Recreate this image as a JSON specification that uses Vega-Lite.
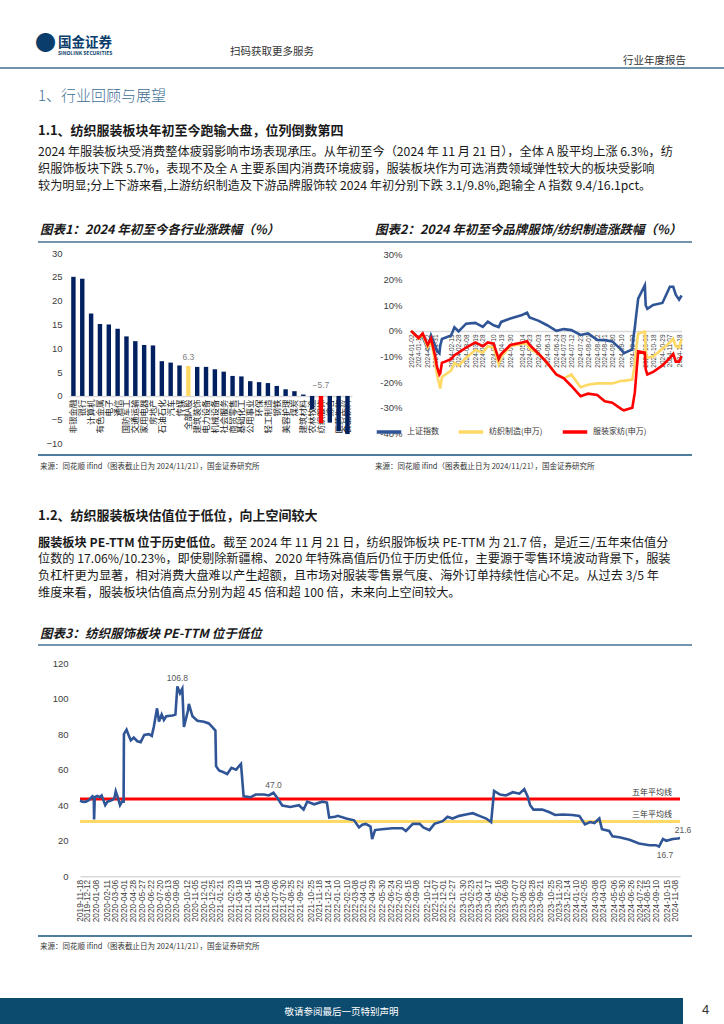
{
"$schema": "https://vega.github.io/schema/vega-lite/v6.json",
"padding": 0,
"background": "white",
"spacing": 0,
"resolve": {"scale": {"color": "independent"}, "legend": {"color": "independent"}},
"config": {
 "view": {"stroke": null},
 "font": "Noto Sans CJK SC",
 "concat": {"spacing": 0},
 "axis": {"grid": false, "ticks": false, "domain": false, "labelFont": "Liberation Sans", "labelColor": "#404040", "labelOverlap": false},
 "title": {"anchor": "start", "frame": "group", "font": "Noto Sans CJK SC", "color": "#1a1a1a", "fontWeight": "normal", "limit": 1000}
},
"datasets": {
 "ind": [
  {"name":"非银金融","chg":25.0,"g":"行业"},{"name":"银行","chg":24.6,"g":"行业"},{"name":"计算机","chg":17.3,"g":"行业"},{"name":"有色金属","chg":15.1,"g":"行业"},{"name":"电子","chg":15.0,"g":"行业"},{"name":"通信","chg":14.1,"g":"行业"},{"name":"国防军工","chg":12.5,"g":"行业"},{"name":"交通运输","chg":11.5,"g":"行业"},{"name":"家用电器","chg":10.7,"g":"行业"},{"name":"房地产","chg":10.6,"g":"行业"},{"name":"石油石化","chg":7.3,"g":"行业"},{"name":"汽车","chg":7.0,"g":"行业"},{"name":"传媒","chg":6.4,"g":"行业"},{"name":"全部A股","chg":6.3,"g":"全部A股"},{"name":"建筑装饰","chg":6.1,"g":"行业"},{"name":"电力设备","chg":6.1,"g":"行业"},{"name":"机械设备","chg":5.6,"g":"行业"},{"name":"社会服务","chg":5.1,"g":"行业"},{"name":"商贸零售","chg":4.2,"g":"行业"},{"name":"基础化工","chg":4.1,"g":"行业"},{"name":"公用事业","chg":3.1,"g":"行业"},{"name":"环保","chg":2.9,"g":"行业"},{"name":"轻工制造","chg":2.7,"g":"行业"},{"name":"钢铁","chg":2.1,"g":"行业"},{"name":"美容护理","chg":1.4,"g":"行业"},{"name":"煤炭","chg":1.0,"g":"行业"},{"name":"建筑材料","chg":0.3,"g":"行业"},{"name":"农林牧渔","chg":-2.8,"g":"行业"},{"name":"纺织服饰","chg":-5.7,"g":"纺织服饰"},{"name":"综合","chg":-5.6,"g":"行业"},{"name":"医药生物","chg":-7.4,"g":"行业"},{"name":"食品饮料","chg":-8.0,"g":"行业"}
 ],
 "idx": [
  {"date":"2024-01-02","s":"上证指数","v":0},{"date":"2024-01-11","s":"上证指数","v":-2.6},{"date":"2024-01-16","s":"上证指数","v":-2.3},{"date":"2024-01-22","s":"上证指数","v":-7.0},{"date":"2024-01-26","s":"上证指数","v":-1.8},{"date":"2024-01-31","s":"上证指数","v":-5.8},{"date":"2024-02-02","s":"上证指数","v":-7.8},{"date":"2024-02-05","s":"上证指数","v":-8.8},{"date":"2024-02-06","s":"上证指数","v":-5.8},{"date":"2024-02-08","s":"上证指数","v":-3.2},{"date":"2024-02-19","s":"上证指数","v":-1.8},{"date":"2024-02-23","s":"上证指数","v":1.4},{"date":"2024-02-28","s":"上证指数","v":-0.2},{"date":"2024-03-08","s":"上证指数","v":2.8},{"date":"2024-03-19","s":"上证指数","v":3.1},{"date":"2024-03-28","s":"上证指数","v":1.6},{"date":"2024-04-03","s":"上证指数","v":3.6},{"date":"2024-04-10","s":"上证指数","v":2.2},{"date":"2024-04-16","s":"上证指数","v":1.5},{"date":"2024-04-19","s":"上证指数","v":3.5},{"date":"2024-04-30","s":"上证指数","v":4.8},{"date":"2024-05-14","s":"上证指数","v":6.2},{"date":"2024-05-20","s":"上证指数","v":7.1},{"date":"2024-05-23","s":"上证指数","v":5.2},{"date":"2024-06-03","s":"上证指数","v":3.9},{"date":"2024-06-13","s":"上证指数","v":2.2},{"date":"2024-06-24","s":"上证指数","v":0.0},{"date":"2024-07-03","s":"上证指数","v":0.7},{"date":"2024-07-12","s":"上证指数","v":0.3},{"date":"2024-07-23","s":"上证指数","v":-1.6},{"date":"2024-08-01","s":"上证指数","v":-1.0},{"date":"2024-08-12","s":"上证指数","v":-3.5},{"date":"2024-08-21","s":"上证指数","v":-3.6},{"date":"2024-08-30","s":"上证指数","v":-4.1},{"date":"2024-09-10","s":"上证指数","v":-7.4},{"date":"2024-09-13","s":"上证指数","v":-8.7},{"date":"2024-09-23","s":"上证指数","v":-7.2},{"date":"2024-09-24","s":"上证指数","v":-3.3},{"date":"2024-09-26","s":"上证指数","v":1.3},{"date":"2024-09-27","s":"上证指数","v":4.3},{"date":"2024-09-30","s":"上证指数","v":12.6},{"date":"2024-10-08","s":"上证指数","v":17.8},{"date":"2024-10-09","s":"上证指数","v":10.0},{"date":"2024-10-11","s":"上证指数","v":8.6},{"date":"2024-10-18","s":"上证指数","v":10.1},{"date":"2024-10-29","s":"上证指数","v":10.9},{"date":"2024-11-07","s":"上证指数","v":17.2},{"date":"2024-11-11","s":"上证指数","v":17.2},{"date":"2024-11-14","s":"上证指数","v":14.1},{"date":"2024-11-18","s":"上证指数","v":12.2},{"date":"2024-11-21","s":"上证指数","v":13.8},
  {"date":"2024-01-02","s":"纺织制造(申万)","v":0},{"date":"2024-01-11","s":"纺织制造(申万)","v":-3.0},{"date":"2024-01-16","s":"纺织制造(申万)","v":-1.5},{"date":"2024-01-22","s":"纺织制造(申万)","v":-6.5},{"date":"2024-01-26","s":"纺织制造(申万)","v":-4.0},{"date":"2024-01-31","s":"纺织制造(申万)","v":-12.0},{"date":"2024-02-02","s":"纺织制造(申万)","v":-17.0},{"date":"2024-02-05","s":"纺织制造(申万)","v":-21.0},{"date":"2024-02-06","s":"纺织制造(申万)","v":-22.5},{"date":"2024-02-08","s":"纺织制造(申万)","v":-18.0},{"date":"2024-02-19","s":"纺织制造(申万)","v":-15.5},{"date":"2024-02-23","s":"纺织制造(申万)","v":-12.5},{"date":"2024-02-28","s":"纺织制造(申万)","v":-13.5},{"date":"2024-03-08","s":"纺织制造(申万)","v":-10.5},{"date":"2024-03-19","s":"纺织制造(申万)","v":-7.5},{"date":"2024-03-28","s":"纺织制造(申万)","v":-8.5},{"date":"2024-04-03","s":"纺织制造(申万)","v":-6.0},{"date":"2024-04-10","s":"纺织制造(申万)","v":-6.5},{"date":"2024-04-16","s":"纺织制造(申万)","v":-13.0},{"date":"2024-04-19","s":"纺织制造(申万)","v":-10.0},{"date":"2024-04-30","s":"纺织制造(申万)","v":-6.0},{"date":"2024-05-14","s":"纺织制造(申万)","v":-5.0},{"date":"2024-05-20","s":"纺织制造(申万)","v":-4.5},{"date":"2024-05-23","s":"纺织制造(申万)","v":-7.0},{"date":"2024-06-03","s":"纺织制造(申万)","v":-9.0},{"date":"2024-06-13","s":"纺织制造(申万)","v":-12.5},{"date":"2024-06-24","s":"纺织制造(申万)","v":-17.0},{"date":"2024-07-03","s":"纺织制造(申万)","v":-18.5},{"date":"2024-07-12","s":"纺织制造(申万)","v":-17.0},{"date":"2024-07-23","s":"纺织制造(申万)","v":-22.0},{"date":"2024-08-01","s":"纺织制造(申万)","v":-21.0},{"date":"2024-08-12","s":"纺织制造(申万)","v":-20.5},{"date":"2024-08-21","s":"纺织制造(申万)","v":-20.5},{"date":"2024-08-30","s":"纺织制造(申万)","v":-20.5},{"date":"2024-09-10","s":"纺织制造(申万)","v":-19.5},{"date":"2024-09-13","s":"纺织制造(申万)","v":-19.5},{"date":"2024-09-23","s":"纺织制造(申万)","v":-19.0},{"date":"2024-09-24","s":"纺织制造(申万)","v":-17.0},{"date":"2024-09-26","s":"纺织制造(申万)","v":-13.0},{"date":"2024-09-27","s":"纺织制造(申万)","v":-9.0},{"date":"2024-09-30","s":"纺织制造(申万)","v":-1.0},{"date":"2024-10-08","s":"纺织制造(申万)","v":-0.3},{"date":"2024-10-09","s":"纺织制造(申万)","v":-8.0},{"date":"2024-10-11","s":"纺织制造(申万)","v":-10.5},{"date":"2024-10-18","s":"纺织制造(申万)","v":-10.0},{"date":"2024-10-29","s":"纺织制造(申万)","v":-7.0},{"date":"2024-11-07","s":"纺织制造(申万)","v":-4.5},{"date":"2024-11-11","s":"纺织制造(申万)","v":-3.0},{"date":"2024-11-14","s":"纺织制造(申万)","v":-6.0},{"date":"2024-11-18","s":"纺织制造(申万)","v":-6.5},{"date":"2024-11-21","s":"纺织制造(申万)","v":-3.1},
  {"date":"2024-01-02","s":"服装家纺(申万)","v":0},{"date":"2024-01-11","s":"服装家纺(申万)","v":-2.8},{"date":"2024-01-16","s":"服装家纺(申万)","v":-1.0},{"date":"2024-01-22","s":"服装家纺(申万)","v":-5.5},{"date":"2024-01-26","s":"服装家纺(申万)","v":-3.0},{"date":"2024-01-31","s":"服装家纺(申万)","v":-10.0},{"date":"2024-02-02","s":"服装家纺(申万)","v":-14.0},{"date":"2024-02-05","s":"服装家纺(申万)","v":-17.0},{"date":"2024-02-06","s":"服装家纺(申万)","v":-16.5},{"date":"2024-02-08","s":"服装家纺(申万)","v":-12.5},{"date":"2024-02-19","s":"服装家纺(申万)","v":-11.0},{"date":"2024-02-23","s":"服装家纺(申万)","v":-9.5},{"date":"2024-02-28","s":"服装家纺(申万)","v":-8.5},{"date":"2024-03-08","s":"服装家纺(申万)","v":-6.5},{"date":"2024-03-19","s":"服装家纺(申万)","v":-4.5},{"date":"2024-03-28","s":"服装家纺(申万)","v":-6.0},{"date":"2024-04-03","s":"服装家纺(申万)","v":-4.5},{"date":"2024-04-10","s":"服装家纺(申万)","v":-5.0},{"date":"2024-04-16","s":"服装家纺(申万)","v":-11.0},{"date":"2024-04-19","s":"服装家纺(申万)","v":-9.0},{"date":"2024-04-30","s":"服装家纺(申万)","v":-5.5},{"date":"2024-05-14","s":"服装家纺(申万)","v":-4.5},{"date":"2024-05-20","s":"服装家纺(申万)","v":-4.0},{"date":"2024-05-23","s":"服装家纺(申万)","v":-5.5},{"date":"2024-06-03","s":"服装家纺(申万)","v":-9.0},{"date":"2024-06-13","s":"服装家纺(申万)","v":-12.5},{"date":"2024-06-24","s":"服装家纺(申万)","v":-17.0},{"date":"2024-07-03","s":"服装家纺(申万)","v":-18.5},{"date":"2024-07-12","s":"服装家纺(申万)","v":-21.5},{"date":"2024-07-23","s":"服装家纺(申万)","v":-25.5},{"date":"2024-08-01","s":"服装家纺(申万)","v":-24.5},{"date":"2024-08-12","s":"服装家纺(申万)","v":-25.0},{"date":"2024-08-21","s":"服装家纺(申万)","v":-27.5},{"date":"2024-08-30","s":"服装家纺(申万)","v":-28.0},{"date":"2024-09-10","s":"服装家纺(申万)","v":-30.5},{"date":"2024-09-13","s":"服装家纺(申万)","v":-31.0},{"date":"2024-09-23","s":"服装家纺(申万)","v":-30.0},{"date":"2024-09-24","s":"服装家纺(申万)","v":-28.0},{"date":"2024-09-26","s":"服装家纺(申万)","v":-24.0},{"date":"2024-09-27","s":"服装家纺(申万)","v":-20.0},{"date":"2024-09-30","s":"服装家纺(申万)","v":-8.0},{"date":"2024-10-08","s":"服装家纺(申万)","v":-8.5},{"date":"2024-10-09","s":"服装家纺(申万)","v":-15.0},{"date":"2024-10-11","s":"服装家纺(申万)","v":-17.0},{"date":"2024-10-18","s":"服装家纺(申万)","v":-16.0},{"date":"2024-10-29","s":"服装家纺(申万)","v":-13.5},{"date":"2024-11-07","s":"服装家纺(申万)","v":-10.5},{"date":"2024-11-11","s":"服装家纺(申万)","v":-9.0},{"date":"2024-11-14","s":"服装家纺(申万)","v":-12.0},{"date":"2024-11-18","s":"服装家纺(申万)","v":-12.0},{"date":"2024-11-21","s":"服装家纺(申万)","v":-9.8}
 ],
 "pe": [
  {"date":"2019-11-18","pe":42.5},{"date":"2019-11-28","pe":41.8},{"date":"2019-12-06","pe":42.0},{"date":"2019-12-16","pe":43.0},{"date":"2019-12-26","pe":45.0},{"date":"2019-12-30","pe":44.5},{"date":"2019-12-31","pe":32.0},{"date":"2020-01-02","pe":44.5},{"date":"2020-01-10","pe":45.2},{"date":"2020-01-17","pe":44.5},{"date":"2020-01-23","pe":45.5},{"date":"2020-02-03","pe":40.0},{"date":"2020-02-10","pe":42.0},{"date":"2020-02-18","pe":42.5},{"date":"2020-02-25","pe":43.0},{"date":"2020-03-02","pe":44.0},{"date":"2020-03-06","pe":47.8},{"date":"2020-03-12","pe":44.5},{"date":"2020-03-19","pe":40.0},{"date":"2020-03-25","pe":42.0},{"date":"2020-03-30","pe":42.0},{"date":"2020-03-31","pe":80.0},{"date":"2020-04-08","pe":82.5},{"date":"2020-04-15","pe":79.0},{"date":"2020-04-21","pe":76.5},{"date":"2020-04-30","pe":78.0},{"date":"2020-05-11","pe":76.0},{"date":"2020-05-21","pe":75.5},{"date":"2020-06-01","pe":79.5},{"date":"2020-06-15","pe":80.0},{"date":"2020-06-24","pe":79.0},{"date":"2020-06-30","pe":84.0},{"date":"2020-07-10","pe":94.5},{"date":"2020-07-16","pe":87.0},{"date":"2020-07-24","pe":91.0},{"date":"2020-07-31","pe":88.0},{"date":"2020-08-07","pe":90.0},{"date":"2020-08-26","pe":90.5},{"date":"2020-09-04","pe":91.0},{"date":"2020-09-10","pe":106.8},{"date":"2020-09-18","pe":103.0},{"date":"2020-09-25","pe":105.5},{"date":"2020-09-30","pe":84.0},{"date":"2020-10-12","pe":93.0},{"date":"2020-10-15","pe":97.0},{"date":"2020-10-26","pe":90.0},{"date":"2020-11-10","pe":87.5},{"date":"2020-11-30","pe":87.0},{"date":"2020-12-15","pe":86.0},{"date":"2020-12-25","pe":84.0},{"date":"2021-01-04","pe":82.0},{"date":"2021-01-06","pe":62.0},{"date":"2021-01-15","pe":59.5},{"date":"2021-01-29","pe":58.5},{"date":"2021-02-09","pe":57.5},{"date":"2021-02-22","pe":61.0},{"date":"2021-03-08","pe":60.0},{"date":"2021-03-23","pe":63.2},{"date":"2021-03-31","pe":45.0},{"date":"2021-04-22","pe":44.5},{"date":"2021-05-07","pe":46.0},{"date":"2021-06-01","pe":46.0},{"date":"2021-06-16","pe":45.5},{"date":"2021-06-30","pe":47.0},{"date":"2021-07-12","pe":44.0},{"date":"2021-07-27","pe":39.8},{"date":"2021-08-20","pe":39.0},{"date":"2021-09-16","pe":40.0},{"date":"2021-09-30","pe":37.5},{"date":"2021-10-11","pe":42.0},{"date":"2021-11-01","pe":40.5},{"date":"2021-11-26","pe":42.0},{"date":"2021-12-10","pe":41.5},{"date":"2021-12-17","pe":33.0},{"date":"2022-01-04","pe":33.5},{"date":"2022-01-12","pe":34.0},{"date":"2022-02-07","pe":32.5},{"date":"2022-03-03","pe":31.5},{"date":"2022-03-18","pe":27.5},{"date":"2022-03-28","pe":29.0},{"date":"2022-04-08","pe":29.5},{"date":"2022-04-22","pe":28.0},{"date":"2022-04-27","pe":21.0},{"date":"2022-05-06","pe":26.0},{"date":"2022-05-27","pe":26.5},{"date":"2022-06-28","pe":27.0},{"date":"2022-07-28","pe":27.0},{"date":"2022-08-08","pe":25.5},{"date":"2022-08-29","pe":29.5},{"date":"2022-09-19","pe":29.5},{"date":"2022-09-30","pe":27.5},{"date":"2022-10-19","pe":26.0},{"date":"2022-11-03","pe":29.5},{"date":"2022-11-28","pe":31.0},{"date":"2022-12-13","pe":33.5},{"date":"2022-12-28","pe":32.5},{"date":"2023-01-18","pe":34.0},{"date":"2023-02-07","pe":34.8},{"date":"2023-02-28","pe":35.5},{"date":"2023-03-20","pe":34.0},{"date":"2023-04-10","pe":32.5},{"date":"2023-04-25","pe":30.5},{"date":"2023-05-04","pe":48.0},{"date":"2023-05-22","pe":46.0},{"date":"2023-06-09","pe":45.5},{"date":"2023-06-30","pe":47.3},{"date":"2023-07-20","pe":46.5},{"date":"2023-08-04","pe":49.0},{"date":"2023-08-14","pe":45.0},{"date":"2023-08-22","pe":40.0},{"date":"2023-09-01","pe":37.5},{"date":"2023-09-28","pe":37.5},{"date":"2023-10-20","pe":36.0},{"date":"2023-11-06","pe":34.5},{"date":"2023-11-29","pe":34.8},{"date":"2023-12-29","pe":34.5},{"date":"2024-01-19","pe":34.0},{"date":"2024-02-05","pe":29.2},{"date":"2024-02-21","pe":30.5},{"date":"2024-03-05","pe":30.0},{"date":"2024-03-20","pe":32.5},{"date":"2024-03-28","pe":26.5},{"date":"2024-04-19","pe":25.5},{"date":"2024-04-29","pe":22.5},{"date":"2024-05-20","pe":22.0},{"date":"2024-06-20","pe":20.5},{"date":"2024-07-19","pe":18.5},{"date":"2024-08-20","pe":17.5},{"date":"2024-09-09","pe":17.5},{"date":"2024-09-18","pe":16.7},{"date":"2024-09-30","pe":21.0},{"date":"2024-10-10","pe":20.0},{"date":"2024-10-30","pe":21.0},{"date":"2024-11-14","pe":21.3},{"date":"2024-11-21","pe":21.6}
 ],
 "avg": [{"name":"五年平均线","pe":43.5,"date":"2024-11-21","date2":"2019-11-18"},{"name":"三年平均线","pe":30.9,"date":"2024-11-21","date2":"2019-11-18"}]
},
"vconcat": [
 {"hconcat": [
  {"width": 56, "height": 67, "data": {"values": []}, "mark": "point", "title": {"text": "●", "fontSize": 21, "color": "#0a3d6b", "anchor": "end", "offset": -54}},
  {"width": 169, "height": 67, "data": {"values": []}, "mark": "point", "title": {"text": "国金证券", "fontSize": 13.5, "fontWeight": "bold", "color": "#0a3d6b", "subtitle": "SINOLINK SECURITIES", "subtitleFontSize": 5, "subtitleFontWeight": "bold", "subtitleColor": "#0a3d6b", "subtitlePadding": 2, "offset": -56, "dx": 2}},
  {"width": 320, "height": 67, "data": {"values": []}, "mark": "point", "title": {"text": "扫码获取更多服务", "fontSize": 10.5, "color": "#333333", "offset": -57, "dx": 5}},
  {"width": 141, "height": 67, "data": {"values": []}, "mark": "point", "title": {"text": "行业年度报告", "fontSize": 10.5, "color": "#333333", "anchor": "end", "offset": -66}},
  {"width": 38, "height": 67, "data": {"values": []}, "mark": "point"}
 ], "spacing": 0},
 {"width": 724, "height": 2, "data": {"values": []}, "mark": "point", "view": {"fill": "#6f93ab"}},
 {"width": 724, "height": 42, "data": {"values": []}, "mark": "point", "title": {"text": "1、行业回顾与展望", "fontSize": 15, "fontWeight": 300, "color": "#3e6f94", "offset": -35, "dx": 38}},
 {"width": 724, "height": 85, "data": {"values": []}, "mark": "point", "title": {"text": "1.1、纺织服装板块年初至今跑输大盘，位列倒数第四", "fontSize": 13, "fontWeight": "bold", "subtitle": ["2024 年服装板块受消费整体疲弱影响市场表现承压。从年初至今（2024 年 11 月 21 日），全体 A 股平均上涨 6.3%，纺", "织服饰板块下跌 5.7%，表现不及全 A 主要系国内消费环境疲弱，服装板块作为可选消费领域弹性较大的板块受影响", "较为明显;分上下游来看,上游纺织制造及下游品牌服饰较 2024 年初分别下跌 3.1/9.8%,跑输全 A 指数 9.4/16.1pct。"], "subtitleFontSize": 12.2, "subtitleLineHeight": 16.7, "subtitleColor": "#1a1a1a", "subtitlePadding": 8, "offset": -81, "dx": 38}},
 {"hconcat": [
  {"width": 38, "height": 1, "data": {"values": []}, "mark": "point"},
  {"vconcat": [
   {"width": 324, "height": 45, "data": {"values": []}, "mark": "point", "title": {"text": "图表1：2024 年初至今各行业涨跌幅（%）", "fontSize": 12.5, "fontWeight": "bold", "fontStyle": "italic", "offset": -40, "dx": 2}},
   {"width": 324, "height": 2, "data": {"values": []}, "mark": "point", "view": {"fill": "#7295ad"}},
   {"width": 324, "height": 4.95, "data": {"values": []}, "mark": "point"},
   {"hconcat": [
    {"width": 1, "height": 1, "data": {"values": []}, "mark": "point"},
    {"width": 282.9, "height": 190.6, "data": {"name": "ind"},
     "encoding": {
      "x": {"field": "name", "type": "nominal", "sort": null, "scale": {"paddingInner": 0.5, "paddingOuter": 0.25},
       "axis": {"labelAngle": -90, "labelFont": "Noto Sans CJK SC", "labelFontSize": 8.5, "labelPadding": 3, "labelColor": "#222222", "labelOverlap": false, "labelLimit": 0, "domain": true, "domainColor": "#d9d9d9", "domainWidth": 1.5, "offset": -47.65, "title": null}},
      "y": {"field": "chg", "type": "quantitative", "scale": {"domain": [-10, 30], "nice": false}, "axis": {"values": [-10,-5,0,5,10,15,20,25,30], "labelFontSize": 9.5, "labelPadding": 7, "labelOverlap": false, "minExtent": 29.3, "maxExtent": 29.3, "title": null}}
     },
     "layer": [
      {"mark": {"type": "bar"}, "encoding": {
        "color": {"field": "g", "type": "nominal", "scale": {"domain": ["行业","全部A股","纺织服饰"], "range": ["#002060","#FFD966","#FF0000"]}, "legend": null}}},
      {"transform": [{"filter": "datum.name == '全部A股'"}], "mark": {"type": "text", "dy": -4, "baseline": "bottom", "fontSize": 8.5, "color": "#7f7f7f", "font": "Liberation Sans"},
       "encoding": {"text": {"field": "chg", "type": "quantitative", "format": ".1f"}}},
      {"transform": [{"filter": "datum.name == '纺织服饰'"}], "mark": {"type": "text", "dy": -6, "baseline": "bottom", "fontSize": 8.5, "color": "#7f7f7f", "font": "Liberation Sans"},
       "encoding": {"y": {"datum": 0, "type": "quantitative", "scale": {"domain": [-10, 30], "nice": false}, "axis": {"values": [-10,-5,0,5,10,15,20,25,30], "labelFontSize": 9.5, "labelPadding": 7, "labelOverlap": false, "minExtent": 29.3, "maxExtent": 29.3, "title": null}}, "text": {"field": "chg", "type": "quantitative", "format": ".1f"}}}
     ]}
   ], "spacing": 0},
   {"width": 324, "height": 4.65, "data": {"values": []}, "mark": "point"},
   {"width": 324, "height": 2, "data": {"values": []}, "mark": "point", "view": {"fill": "#4f7d9c"}},
   {"width": 324, "height": 20, "data": {"values": []}, "mark": "point", "title": {"text": "来源：同花顺 ifind（图表截止日为 2024/11/21），国金证券研究所", "fontSize": 7.5, "color": "#333333", "offset": -14.8, "dx": 2}}
  ], "spacing": 0},
  {"vconcat": [
   {"width": 330, "height": 45, "data": {"values": []}, "mark": "point", "title": {"text": "图表2：2024 年初至今品牌服饰/纺织制造涨跌幅（%）", "fontSize": 12.5, "fontWeight": "bold", "fontStyle": "italic", "offset": -40, "dx": 13}},
   {"width": 330, "height": 2, "data": {"values": []}, "mark": "point", "view": {"fill": "#7295ad"}},
   {"width": 330, "height": 5.55, "data": {"values": []}, "mark": "point"},
   {"hconcat": [
    {"width": 1, "height": 1, "data": {"values": []}, "mark": "point"},
    {"width": 270.6, "height": 179.4, "data": {"name": "idx"},
     "mark": {"type": "line", "strokeWidth": 2.6},
     "encoding": {
      "x": {"field": "date", "type": "temporal", "scale": {"type": "utc", "nice": false},
       "axis": {"values": [{"year":2024,"month":1,"date":2,"utc":true},{"year":2024,"month":1,"date":11,"utc":true},{"year":2024,"month":1,"date":22,"utc":true},{"year":2024,"month":1,"date":31,"utc":true},{"year":2024,"month":2,"date":19,"utc":true},{"year":2024,"month":2,"date":28,"utc":true},{"year":2024,"month":3,"date":8,"utc":true},{"year":2024,"month":3,"date":19,"utc":true},{"year":2024,"month":3,"date":28,"utc":true},{"year":2024,"month":4,"date":10,"utc":true},{"year":2024,"month":4,"date":19,"utc":true},{"year":2024,"month":4,"date":30,"utc":true},{"year":2024,"month":5,"date":14,"utc":true},{"year":2024,"month":5,"date":23,"utc":true},{"year":2024,"month":6,"date":3,"utc":true},{"year":2024,"month":6,"date":13,"utc":true},{"year":2024,"month":6,"date":24,"utc":true},{"year":2024,"month":7,"date":3,"utc":true},{"year":2024,"month":7,"date":12,"utc":true},{"year":2024,"month":7,"date":23,"utc":true},{"year":2024,"month":8,"date":1,"utc":true},{"year":2024,"month":8,"date":12,"utc":true},{"year":2024,"month":8,"date":21,"utc":true},{"year":2024,"month":8,"date":30,"utc":true},{"year":2024,"month":9,"date":10,"utc":true},{"year":2024,"month":9,"date":23,"utc":true},{"year":2024,"month":10,"date":9,"utc":true},{"year":2024,"month":10,"date":18,"utc":true},{"year":2024,"month":10,"date":29,"utc":true},{"year":2024,"month":11,"date":7,"utc":true},{"year":2024,"month":11,"date":18,"utc":true}],
        "format": "%Y-%m-%d", "labelAngle": -90, "labelFontSize": 6.5, "labelPadding": 3, "labelOverlap": false, "domain": true, "domainColor": "#d9d9d9", "domainWidth": 1.5, "offset": -102.5, "title": null}},
      "y": {"field": "v", "type": "quantitative", "scale": {"domain": [-40, 30], "nice": false}, "axis": {"values": [-40,-30,-20,-10,0,10,20,30], "labelExpr": "datum.value + '%'", "labelFontSize": 9.5, "labelPadding": 9, "minExtent": 47.7, "maxExtent": 47.7, "title": null}},
      "color": {"field": "s", "type": "nominal", "scale": {"domain": ["上证指数","纺织制造(申万)","服装家纺(申万)"], "range": ["#2F5597","#FFD966","#FF0000"]},
       "legend": {"orient": "none", "legendX": 13, "legendY": 222, "direction": "horizontal", "title": null, "symbolType": "stroke", "symbolStrokeWidth": 3.5, "symbolSize": 600, "labelFontSize": 8, "labelFont": "Noto Sans CJK SC", "labelColor": "#333333", "columnPadding": 12}}
     }}
   ], "spacing": 0},
   {"width": 330, "height": 15.25, "data": {"values": []}, "mark": "point"},
   {"width": 330, "height": 2, "data": {"values": []}, "mark": "point", "view": {"fill": "#4f7d9c"}},
   {"width": 330, "height": 20, "data": {"values": []}, "mark": "point", "title": {"text": "来源：同花顺 ifind（图表截止日为 2024/11/21），国金证券研究所", "fontSize": 7.5, "color": "#333333", "offset": -14.8, "dx": 13}}
  ], "spacing": 0}
 ], "spacing": 0, "resolve": {"scale": {"color": "independent"}, "legend": {"color": "independent"}}},
 {"width": 724, "height": 48.3, "data": {"values": []}, "mark": "point", "title": {"text": "1.2、纺织服装板块估值位于低位，向上空间较大", "fontSize": 13, "fontWeight": "bold", "offset": -46.8, "dx": 38}},
 {"hconcat": [
  {"width": 221, "height": 24, "data": {"values": []}, "mark": "point", "title": {"text": "服装板块 PE-TTM 位于历史低位。", "fontSize": 12.2, "fontWeight": "bold", "offset": -24, "dx": 38}},
  {"width": 503, "height": 24, "data": {"values": []}, "mark": "point", "title": {"text": "截至 2024 年 11 月 21 日，纺织服饰板块 PE-TTM 为 21.7 倍，是近三/五年来估值分", "fontSize": 12.2, "offset": -24}}
 ], "spacing": 0},
 {"width": 724, "height": 50, "data": {"values": []}, "mark": "point", "title": {"text": ["位数的 17.06%/10.23%，即使剔除新疆棉、2020 年特殊高值后仍位于历史低位，主要源于零售环境波动背景下，服装", "负杠杆更为显著，相对消费大盘难以产生超额，且市场对服装零售景气度、海外订单持续性信心不足。从过去 3/5 年", "维度来看，服装板块估值高点分别为超 45 倍和超 100 倍，未来向上空间较大。"], "fontSize": 12.2, "lineHeight": 16.7, "offset": -50, "dx": 38}},
 {"width": 724, "height": 45, "data": {"values": []}, "mark": "point", "title": {"text": "图表3：纺织服饰板块 PE-TTM 位于低位", "fontSize": 12.5, "fontWeight": "bold", "fontStyle": "italic", "offset": -41, "dx": 40}},
 {"hconcat": [
  {"width": 38, "height": 1, "data": {"values": []}, "mark": "point"},
  {"width": 654, "height": 2, "data": {"values": []}, "mark": "point", "view": {"fill": "#7295ad"}}
 ], "spacing": 0},
 {"width": 724, "height": 11.25, "data": {"values": []}, "mark": "point"},
 {"hconcat": [
  {"width": 38, "height": 1, "data": {"values": []}, "mark": "point"},
  {"width": 600, "height": 213.3,
   "encoding": {
    "x": {"field": "date", "type": "temporal", "scale": {"type": "utc", "nice": false},
     "axis": {"values": [{"year":2019,"month":11,"date":18,"utc":true},{"year":2019,"month":12,"date":12,"utc":true},{"year":2020,"month":1,"date":8,"utc":true},{"year":2020,"month":2,"date":11,"utc":true},{"year":2020,"month":3,"date":6,"utc":true},{"year":2020,"month":4,"date":1,"utc":true},{"year":2020,"month":4,"date":28,"utc":true},{"year":2020,"month":5,"date":27,"utc":true},{"year":2020,"month":6,"date":22,"utc":true},{"year":2020,"month":7,"date":20,"utc":true},{"year":2020,"month":8,"date":13,"utc":true},{"year":2020,"month":9,"date":8,"utc":true},{"year":2020,"month":10,"date":12,"utc":true},{"year":2020,"month":11,"date":5,"utc":true},{"year":2020,"month":12,"date":1,"utc":true},{"year":2020,"month":12,"date":25,"utc":true},{"year":2021,"month":1,"date":21,"utc":true},{"year":2021,"month":2,"date":23,"utc":true},{"year":2021,"month":3,"date":19,"utc":true},{"year":2021,"month":4,"date":15,"utc":true},{"year":2021,"month":5,"date":14,"utc":true},{"year":2021,"month":6,"date":9,"utc":true},{"year":2021,"month":7,"date":6,"utc":true},{"year":2021,"month":7,"date":30,"utc":true},{"year":2021,"month":8,"date":25,"utc":true},{"year":2021,"month":9,"date":22,"utc":true},{"year":2021,"month":10,"date":25,"utc":true},{"year":2021,"month":11,"date":18,"utc":true},{"year":2021,"month":12,"date":14,"utc":true},{"year":2022,"month":1,"date":10,"utc":true},{"year":2022,"month":2,"date":10,"utc":true},{"year":2022,"month":3,"date":8,"utc":true},{"year":2022,"month":4,"date":1,"utc":true},{"year":2022,"month":4,"date":29,"utc":true},{"year":2022,"month":5,"date":30,"utc":true},{"year":2022,"month":6,"date":24,"utc":true},{"year":2022,"month":7,"date":20,"utc":true},{"year":2022,"month":8,"date":15,"utc":true},{"year":2022,"month":9,"date":8,"utc":true},{"year":2022,"month":10,"date":12,"utc":true},{"year":2022,"month":11,"date":7,"utc":true},{"year":2022,"month":12,"date":1,"utc":true},{"year":2022,"month":12,"date":27,"utc":true},{"year":2023,"month":1,"date":30,"utc":true},{"year":2023,"month":2,"date":23,"utc":true},{"year":2023,"month":3,"date":21,"utc":true},{"year":2023,"month":4,"date":17,"utc":true},{"year":2023,"month":5,"date":16,"utc":true},{"year":2023,"month":6,"date":9,"utc":true},{"year":2023,"month":7,"date":7,"utc":true},{"year":2023,"month":8,"date":2,"utc":true},{"year":2023,"month":8,"date":28,"utc":true},{"year":2023,"month":9,"date":21,"utc":true},{"year":2023,"month":10,"date":25,"utc":true},{"year":2023,"month":11,"date":20,"utc":true},{"year":2023,"month":12,"date":14,"utc":true},{"year":2024,"month":1,"date":10,"utc":true},{"year":2024,"month":2,"date":5,"utc":true},{"year":2024,"month":3,"date":8,"utc":true},{"year":2024,"month":4,"date":3,"utc":true},{"year":2024,"month":5,"date":6,"utc":true},{"year":2024,"month":5,"date":30,"utc":true},{"year":2024,"month":6,"date":26,"utc":true},{"year":2024,"month":7,"date":22,"utc":true},{"year":2024,"month":8,"date":15,"utc":true},{"year":2024,"month":9,"date":10,"utc":true},{"year":2024,"month":10,"date":15,"utc":true},{"year":2024,"month":11,"date":8,"utc":true}],
      "format": "%Y-%m-%d", "labelAngle": -90, "labelFontSize": 8.3, "labelPadding": 3, "labelOverlap": false, "domain": true, "domainColor": "#d9d9d9", "domainWidth": 1.5, "title": null}},
    "y": {"field": "pe", "type": "quantitative", "scale": {"domain": [0, 120], "nice": false}, "axis": {"values": [0,20,40,60,80,100,120], "labelFontSize": 9.5, "labelPadding": 12, "labelOverlap": false, "minExtent": 41.3, "maxExtent": 41.3, "title": null}}
   },
   "layer": [
    {"data": {"name": "avg", "format": {"parse": {"date": "date", "date2": "date"}}}, "mark": {"type": "rule", "strokeWidth": 3}, "encoding": {
      "x2": {"field": "date2"},
      "color": {"field": "name", "type": "nominal", "scale": {"domain": ["五年平均线","三年平均线"], "range": ["#FF0000","#FFD966"]}, "legend": null}}},
    {"data": {"name": "pe"}, "mark": {"type": "line", "color": "#2F5597", "strokeWidth": 2.6}},
    {"data": {"name": "avg", "format": {"parse": {"date": "date", "date2": "date"}}}, "mark": {"type": "text", "align": "right", "baseline": "bottom", "dx": -8, "dy": -2, "fontSize": 8, "color": "#333333"}, "encoding": {
      "text": {"field": "name"}}},
    {"data": {"name": "pe"}, "transform": [{"filter": "datum.pe == 106.8 || datum.pe == 47"}], "mark": {"type": "text", "baseline": "bottom", "dy": -3, "fontSize": 8.5, "color": "#595959", "font": "Liberation Sans"}, "encoding": {
      "text": {"field": "pe", "type": "quantitative", "format": ".1f"}}},
    {"data": {"name": "pe"}, "transform": [{"filter": "datum.pe == 16.7"}], "mark": {"type": "text", "baseline": "top", "dy": 4, "dx": 6, "fontSize": 8.5, "color": "#595959", "font": "Liberation Sans"}, "encoding": {
      "text": {"field": "pe", "type": "quantitative", "format": ".1f"}}},
    {"data": {"name": "pe"}, "transform": [{"filter": "datum.pe == 21.6"}], "mark": {"type": "text", "baseline": "bottom", "dy": -3, "dx": 3, "fontSize": 8.5, "color": "#595959", "font": "Liberation Sans"}, "encoding": {
      "text": {"field": "pe", "type": "quantitative", "format": ".1f"}}}
   ]}
 ], "spacing": 0},
 {"width": 724, "height": 12.3, "data": {"values": []}, "mark": "point"},
 {"hconcat": [
  {"width": 38, "height": 1, "data": {"values": []}, "mark": "point"},
  {"width": 654, "height": 2, "data": {"values": []}, "mark": "point", "view": {"fill": "#4f7d9c"}}
 ], "spacing": 0},
 {"width": 724, "height": 61, "data": {"values": []}, "mark": "point", "title": {"text": "来源：同花顺 ifind（图表截止日为 2024/11/21），国金证券研究所", "fontSize": 7.5, "color": "#333333", "offset": -13, "dx": 40}},
 {"hconcat": [
  {"width": 683, "height": 27, "data": {"values": []}, "mark": "point", "view": {"fill": "#0c4a6e"}, "title": {"text": "敬请参阅最后一页特别声明", "color": "#ffffff", "fontSize": 9.5, "anchor": "middle", "offset": -18}},
  {"width": 41, "height": 27, "data": {"values": []}, "mark": "point", "title": {"text": "4", "fontSize": 13, "color": "#333333", "anchor": "middle", "offset": -19, "dx": 2, "font": "Liberation Sans"}}
 ], "spacing": 0}
]
}
